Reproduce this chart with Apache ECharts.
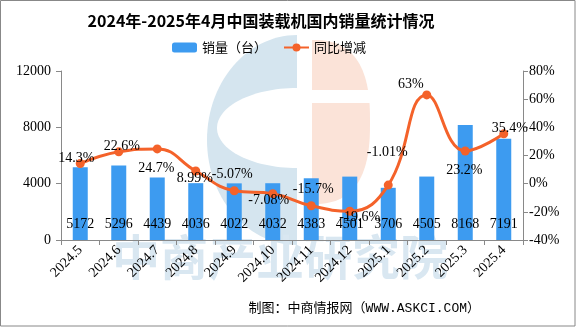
<!DOCTYPE html>
<html><head><meta charset="utf-8">
<script src="https://cdn.jsdelivr.net/npm/echarts@6/dist/echarts.min.js"></script>
<style>html,body{margin:0;padding:0;background:#fff}#c{width:576px;height:327px}</style>
</head><body><div id="c"></div>
<script>
const categories = ['2024.5','2024.6','2024.7','2024.8','2024.9','2024.10','2024.11','2024.12','2025.1','2025.2','2025.3','2025.4'];
const sales = [5172,5296,4439,4036,4022,4032,4383,4501,3706,4505,8168,7191];
const yoy = [14.3,22.6,24.7,8.99,-5.07,-7.08,-15.7,-19.6,-1.01,63,23.2,35.4];
const leftAxisTicks = {min:0, max:12000, interval:4000};
const rightAxisTicks = {min:-40, max:80, interval:20};
const seriesNames = ['销量（台）','同比增减'];
const titleText = '2024年-2025年4月中国装载机国内销量统计情况';
const sourceText = '制图：中商情报网（WWW.ASKCI.COM）';
const watermarkText = '中商产业研究院';
// label nudges (style only) for the yoy labels, in px relative to the point
const yoyLabelOffsets = [[-4,-5],[3,-6],[-1,19],[-1,7],[-2,-16],[-4,7],[2,-16],[10,6],[-1,-33],[-16,-11],[-1,19],[6,-5]];

const SERIF = '"Liberation Serif","Noto Sans CJK SC",serif';
const CJK = '"Noto Sans CJK SC",sans-serif';
const AXIS = '#898989';
const BAR = '#3d9bf0';
const LINE = '#f4622a';

function halfSuperEllipse(cx, cy, rx, ry, n, side) {
  const pts = [];
  for (let i = 0; i <= 60; i++) {
    const t = -Math.PI/2 + Math.PI * i / 60;
    const c = Math.cos(t), s = Math.sin(t);
    pts.push([cx + side * rx * Math.pow(Math.abs(c), 2/n), cy + ry * Math.sign(s) * Math.pow(Math.abs(s), 2/n)]);
  }
  return pts;
}

const chart = echarts.init(document.getElementById('c'), null, {renderer:'canvas'});
chart.setOption({
  animation: false,
  backgroundColor: '#fff',
  graphic: [
    {type:'polygon', z:-20, shape:{points: halfSuperEllipse(297,140,90,105,2,-1)}, style:{fill:'#d5e5ef'}},
    {type:'polygon', z:-19, shape:{points: halfSuperEllipse(297,128,80,40,2,-1)}, style:{fill:'#fff'}},
    {type:'polygon', z:-20, shape:{points: halfSuperEllipse(312,122,58,82,2.6,1)}, style:{fill:'#fbe3d8'}},
    {type:'rect', z:-19, shape:{x:305,y:90,width:90,height:13}, style:{fill:'#fff'}},
    {type:'text', z:-18, x:280, y:257, style:{text:watermarkText, font:'bold 48px "Noto Sans CJK SC"', fill:'#d9e7f1', textAlign:'center', textVerticalAlign:'middle'}},
    {type:'text', x:261, y:21, style:{text:titleText, font:'bold 16px "Noto Sans CJK SC"', fill:'#000', textAlign:'center', textVerticalAlign:'middle'}},
    {type:'text', x:480, y:309, style:{text:sourceText, font:'13px "Liberation Mono","Noto Sans CJK SC"', fill:'#000', textAlign:'right', textVerticalAlign:'middle'}},
    {type:'rect', z:50, shape:{x:0.5,y:0.5,width:574.5,height:325.5}, style:{fill:'none', stroke:'#888', lineWidth:1}}
  ],
  legend: {
    left: 167, top: 36, itemWidth: 25, itemHeight: 10, itemGap: 16,
    textStyle: {fontFamily: CJK, fontSize: 13, color: '#000'},
    data: seriesNames
  },
  grid: {left: 61, right: 53, top: 71, bottom: 87},
  xAxis: {
    type: 'category', data: categories, boundaryGap: true,
    axisLine: {lineStyle: {color: AXIS}},
    axisTick: {show: true, alignWithLabel: false, length: 5, lineStyle: {color: AXIS}},
    axisLabel: {rotate: 45, margin: 8, interval: 0, color: '#000', fontFamily: SERIF, fontSize: 14}
  },
  yAxis: [
    {type: 'value', min: leftAxisTicks.min, max: leftAxisTicks.max, interval: leftAxisTicks.interval,
     axisLine: {show: true, lineStyle: {color: AXIS}},
     axisTick: {show: true, length: 5, lineStyle: {color: AXIS}},
     splitLine: {show: false},
     axisLabel: {margin: 10, color: '#000', fontFamily: SERIF, fontSize: 14, formatter: v => String(v)}},
    {type: 'value', position: 'right', min: rightAxisTicks.min, max: rightAxisTicks.max, interval: rightAxisTicks.interval,
     axisLine: {show: true, lineStyle: {color: AXIS}},
     axisTick: {show: true, length: 5, lineStyle: {color: AXIS}},
     splitLine: {show: false},
     axisLabel: {margin: 6, color: '#000', fontFamily: SERIF, fontSize: 14, formatter: v => v + '%'}}
  ],
  series: [
    {name: seriesNames[0], type: 'bar', yAxisIndex: 0, data: sales, barWidth: 15,
     itemStyle: {color: BAR},
     label: {show: true, position: 'insideBottom', distance: 9, color: '#000', fontFamily: SERIF, fontSize: 14}},
    {name: seriesNames[1], type: 'line', yAxisIndex: 1, smooth: 0.45,
     data: yoy.map((v, i) => ({value: v, label: {offset: yoyLabelOffsets[i]}})),
     symbol: 'circle', symbolSize: 9,
     lineStyle: {color: LINE, width: 3}, itemStyle: {color: LINE},
     label: {show: true, position: 'inside', color: '#000', fontFamily: SERIF, fontSize: 14,
             formatter: p => p.value + '%'}}
  ]
});
</script>
</body></html>
